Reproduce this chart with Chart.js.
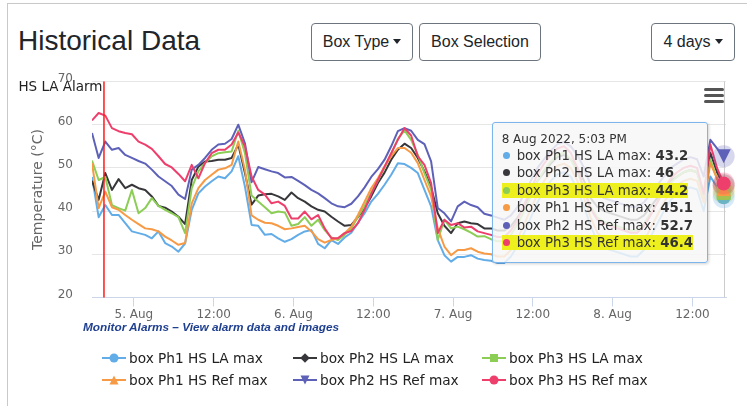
<!DOCTYPE html>
<html>
<head>
<meta charset="utf-8">
<title>Historical Data</title>
<script src="https://cdn.jsdelivr.net/npm/chart.js@4.4.1/dist/chart.umd.min.js"></script>
<style>
  html, body { margin: 0; padding: 0; background: #fff; }
  body { width: 747px; height: 406px; overflow: hidden; position: relative; font-family: "Liberation Sans", Arial, sans-serif; }
  #card { position: absolute; left: 7px; top: 3px; width: 800px; height: 500px; border: 1px solid #c9c9c9; box-sizing: border-box; }
  #title { position: absolute; left: 18px; top: 27px; margin: 0; font-size: 28px; line-height: 28px; font-weight: normal; color: #212529; }
  .btn { position: absolute; top: 23px; height: 38px; box-sizing: border-box; border: 1px solid #6c757d; border-radius: 4px;
         font-size: 16px; line-height: 36px; color: #212529; text-align: center; background: #fff; }
  .caret { display: inline-block; margin-left: 4px; vertical-align: 3px; border-top: 5px solid #212529;
           border-left: 4.5px solid transparent; border-right: 4.5px solid transparent; }
  #chart { position: absolute; left: 0; top: 0; }
  #menu { position: absolute; left: 704px; top: 88px; width: 20px; }
  #menu div { height: 2.6px; background: #555; border-radius: 1.5px; margin-bottom: 3.4px; }
  #monitor { position: absolute; left: 83px; top: 320px; font-size: 11.8px; line-height: 14px; font-weight: bold; font-style: italic; color: #1f3f8f; }
  .leg { position: absolute; height: 18px; display: flex; align-items: center; font-family: "DejaVu Sans", sans-serif; font-size: 13.7px; color: #222; white-space: nowrap; }
  .leg svg { margin-right: 3px; }
  #tip { position: absolute; width: 216px; box-sizing: border-box; padding: 8px 9px 10px 9px; background: rgba(247,247,247,0.85);
         border: 1px solid #7cb5ec; border-radius: 3px; box-shadow: 1px 1px 3px rgba(0,0,0,0.18);
         font-family: "DejaVu Sans", sans-serif; color: #333; white-space: nowrap; }
  #tip .hd { font-size: 12px; line-height: 16px; }
  #tip .row { font-size: 13.3px; line-height: 17.6px; }
  #tip .dot { display: inline-block; width: 7px; height: 7px; border-radius: 50%; margin: 0 7px 0 1px; vertical-align: 1px; }
  #tip .hl { background: #eef01e; }
</style>
</head>
<body>
<div id="card"></div>
<h3 id="title">Historical Data</h3>
<div class="btn" style="left:311px;width:102px;">Box Type<span class="caret"></span></div>
<div class="btn" style="left:419px;width:122px;">Box Selection</div>
<div class="btn" style="left:651px;width:84px;">4 days<span class="caret"></span></div>
<canvas id="chart" width="747" height="406"></canvas>
<div id="menu"><div></div><div></div><div></div></div>
<div id="monitor">Monitor Alarms – View alarm data and images</div>
<div id="legend"></div>
<div id="tip"></div>

<script>
// hours since 5 Aug 2022 00:00, one reading per hour
const firstHour = -6.3;
const axisMin = -6.3;
const axisMax = 89.05;
const alarmHour = -4.5;
const alarmLabel = 'HS LA Alarm';
const tooltipHeader = '8 Aug 2022, 5:03 PM';

const tickHours = [0, 12, 24, 36, 48, 60, 72, 84];
const tickLabels = ['5. Aug', '12:00', '6. Aug', '12:00', '7. Aug', '12:00', '8. Aug', '12:00'];

const seriesNames = ['box Ph1 HS LA max', 'box Ph2 HS LA max', 'box Ph3 HS LA max',
                     'box Ph1 HS Ref max', 'box Ph2 HS Ref max', 'box Ph3 HS Ref max'];
const seriesColors = ['#62ace8', '#38383c', '#8ccd55', '#f79a45', '#5e61b8', '#ee3f6c'];
const seriesSymbols = ['circle', 'diamond', 'square', 'triangle', 'triangle-down', 'circle'];
const highlighted = [false, false, true, false, false, true];

const ph1LA = [47.9, 38.6, 41.4, 39.1, 39.1, 37.2, 35.3, 34.9, 34.5, 33.7, 35.3, 32.6, 31.8, 30.6, 32.5, 40.3, 44.1, 45.7, 46.9, 48.0, 47.6, 49.2, 52.7, 45.7, 36.8,
  36.6, 34.5, 34.7, 33.7, 32.9, 33.5, 34.5, 35.3, 35.6, 32.4, 31.4, 33.3, 32.4, 33.9, 35.0, 37.3, 39.5, 42.2, 44.0, 46.1, 48.4, 51.1, 50.9, 50.0,
  48.8, 44.9, 41.1, 33.3, 29.8, 28.3, 29.4, 29.4, 29.8, 29.0, 28.7,
  28.5, 28, 28, 29.5, 32, 35, 38.5, 42, 45, 47, 48.5, 49, 48, 45, 41, 36.5, 33, 31.5, 31, 30.5, 30, 29.5, 29.5, 31, 34, 37, 40, 42.5, 44, 45, 45.5, 45, 40, 48, 45.5, 43.2];
const ph2LA = [47.0, 42.6, 48.8, 44.9, 47.4, 45.3, 46.1, 45.3, 44.9, 43.4, 41.2, 40.8, 39.9, 38.7, 37.0, 47.2, 50.3, 51.5, 51.6, 51.9, 51.9, 52.3, 55.4, 48.8, 41.5,
  43.6, 43.9, 44.0, 43.4, 42.6, 44.3, 43.0, 42.2, 41.1, 40.3, 39.9, 38.7, 37.6, 36.6, 36.8, 38.6, 40.7, 43.4, 46.5, 48.9, 51.9, 54.2, 55.6, 54.6,
  52.3, 49.2, 45.5, 39.5, 36.6, 34.9, 37.2, 37.6, 37.2, 37.0, 36.0,
  36, 35.5, 35.5, 36.5, 38.5, 41, 44, 47, 49, 51, 52.5, 53, 52, 50, 47, 43, 41, 40, 39.5, 39, 38.5, 38, 38, 39, 41, 43, 45, 47, 48, 49, 49.5, 49, 44, 53.5, 49, 46];
const ph3LA = [51.7, 47.2, 47.9, 41.4, 40.7, 40.1, 44.9, 39.5, 40.7, 43.0, 41.2, 40.3, 39.5, 38.6, 34.9, 45.3, 49.2, 51.1, 52.7, 53.4, 53.6, 53.8, 58.6, 53.4, 43.6,
  42.2, 40.9, 39.5, 39.9, 39.7, 36.6, 37.0, 38.6, 36.6, 38.0, 35.6, 33.9, 33.3, 34.5, 36.0, 38.7, 41.2, 44.3, 47.1, 50.1, 53.3, 56.7, 58.7, 56.5,
  53.0, 48.8, 44.9, 33.3, 38.0, 36.0, 36.4, 35.8, 35.0, 34.1, 34.2,
  33.5, 33, 33, 34.5, 37, 40, 43.5, 47, 49.5, 51.5, 53, 53.5, 52, 49, 45, 41, 38.5, 37.5, 37, 36.5, 36, 35.5, 35.5, 37, 39.5, 42, 44.5, 46.5, 48, 49, 49.5, 49, 43, 51.9, 47.5, 44.2];
const ph1Ref = [51.1, 40.7, 44.5, 40.9, 40.3, 39.1, 38.0, 37.0, 36.0, 35.8, 35.3, 34.1, 33.2, 32.2, 32.6, 41.8, 45.3, 47.2, 48.4, 49.6, 49.9, 50.7, 56.1, 49.6, 39.0,
  38.0, 37.3, 37.2, 36.6, 35.8, 36.0, 36.3, 36.6, 35.3, 33.5, 32.7, 33.3, 33.7, 34.9, 36.4, 39.1, 42.2, 45.3, 47.6, 50.3, 52.7, 54.6, 54.6, 53.5,
  51.1, 47.2, 43.4, 36.0, 31.8, 29.8, 31.0, 31.0, 31.4, 30.6, 30.2,
  30, 29.5, 29.5, 31, 33.5, 37, 40.5, 44, 47, 49, 50.5, 51, 50, 47, 43, 38.5, 35, 33.5, 33, 32.5, 32, 31.5, 31.5, 33, 36, 39, 42, 44.5, 46, 47, 47.5, 47, 42, 51.1, 47.5, 45.1];
const ph2Ref = [58.1, 52.3, 56.1, 54.2, 54.6, 53.0, 52.3, 51.6, 51.0, 49.6, 48.0, 46.9, 45.8, 43.8, 42.8, 49.6, 50.7, 52.3, 54.2, 55.4, 55.6, 56.7, 60.0, 55.7, 46.7,
  50.2, 49.7, 49.2, 48.8, 47.8, 47.9, 47.0, 46.0, 44.9, 44.1, 43.0, 41.8, 41.1, 40.9, 41.7, 43.4, 45.5, 47.9, 49.7, 51.9, 55.0, 58.5, 59.2, 58.6,
  56.5, 55.5, 51.5, 40.7, 39.5, 37.6, 41.1, 42.2, 41.4, 40.9, 39.4,
  39.0, 38.5, 38.0, 39, 41, 44, 47, 50, 52, 54, 55.5, 56, 55, 53, 50, 46, 44, 43, 42.5, 42, 41.5, 41, 41, 42, 44, 46, 48, 50, 51, 52, 52.5, 52, 48, 56.5, 54.5, 52.7];
const ph3Ref = [61.0, 62.7, 62.1, 59.2, 58.5, 58.1, 57.8, 56.1, 55.4, 54.4, 52.7, 50.9, 50.1, 48.6, 46.9, 50.7, 47.6, 51.1, 53.4, 54.2, 54.2, 55.4, 58.2, 55.0, 48.0,
  44.9, 43.8, 41.8, 42.2, 41.2, 38.3, 38.3, 39.9, 38.1, 39.1, 36.0, 33.7, 33.7, 34.9, 35.4, 37.2, 40.3, 44.0, 47.2, 50.3, 53.4, 56.5, 59.2, 57.5,
  52.7, 50.7, 46.5, 34.9, 38.0, 36.8, 37.2, 36.2, 36.4, 35.3, 34.9,
  34.5, 34, 34, 35.5, 38, 41.5, 45, 48.5, 51, 53, 54.5, 55, 53.5, 50, 45, 40.5, 38, 37, 36.5, 36, 35.5, 35, 35, 36.5, 39, 42, 45, 47.5, 49, 50, 50.5, 50, 44, 55.4, 50, 46.4];

const allSeries = [ph1LA, ph2LA, ph3LA, ph1Ref, ph2Ref, ph3Ref];
const times = ph1LA.map((_, i) => firstHour + i);
const lastIdx = times.length - 1;

function alpha(hex, a) {
    const n = parseInt(hex.slice(1), 16);
    return `rgba(${n >> 16}, ${(n >> 8) & 255}, ${n & 255}, ${a})`;
}

function drawSymbol(ctx, sym, x, y, r) {
    ctx.beginPath();
    if (sym === 'circle') {
        ctx.arc(x, y, r, 0, Math.PI * 2);
    } else if (sym === 'diamond') {
        ctx.moveTo(x, y - r); ctx.lineTo(x + r, y); ctx.lineTo(x, y + r); ctx.lineTo(x - r, y);
    } else if (sym === 'square') {
        ctx.rect(x - r, y - r, 2 * r, 2 * r);
    } else if (sym === 'triangle') {
        ctx.moveTo(x, y - r); ctx.lineTo(x + r, y + r); ctx.lineTo(x - r, y + r);
    } else {
        ctx.moveTo(x - r, y - r); ctx.lineTo(x + r, y - r); ctx.lineTo(x, y + r);
    }
    ctx.closePath();
    ctx.fill();
}

const overlay = {
    id: 'overlay',
    beforeDatasetsDraw(chart) {
        const { ctx, chartArea: a, scales: { x } } = chart;
        ctx.save();
        // crosshair on the hovered time
        const hx = Math.round(x.getPixelForValue(times[lastIdx])) + 0.5;
        ctx.strokeStyle = '#cccccc';
        ctx.lineWidth = 1;
        ctx.beginPath(); ctx.moveTo(hx, a.top); ctx.lineTo(hx, a.bottom); ctx.stroke();
        ctx.restore();
    },
    afterDatasetsDraw(chart) {
        const { ctx, chartArea: a, scales: { x } } = chart;
        ctx.save();
        // alarm plot line
        const ax = x.getPixelForValue(alarmHour);
        ctx.strokeStyle = '#ff1a1a';
        ctx.lineWidth = 1.5;
        ctx.beginPath(); ctx.moveTo(ax, a.top); ctx.lineTo(ax, a.bottom); ctx.stroke();
        // hover halos + markers on the last point of every series
        chart.data.datasets.forEach((ds, i) => {
            const pt = chart.getDatasetMeta(i).data[lastIdx];
            ctx.fillStyle = alpha(seriesColors[i], 0.25);
            ctx.beginPath(); ctx.arc(pt.x, pt.y, 11, 0, Math.PI * 2); ctx.fill();
            ctx.fillStyle = seriesColors[i];
            drawSymbol(ctx, seriesSymbols[i], pt.x, pt.y, seriesSymbols[i] === 'circle' ? 7 : 7);
        });
        ctx.restore();
    },
    afterDraw(chart) {
        const { ctx, chartArea: a, scales: { x } } = chart;
        const ax = x.getPixelForValue(alarmHour);
        ctx.save();
        ctx.font = '13.5px "DejaVu Sans"';
        ctx.fillStyle = '#222';
        ctx.textAlign = 'right';
        ctx.textBaseline = 'alphabetic';
        ctx.fillText(alarmLabel, ax - 1.5, a.top + 9);
        ctx.restore();
    }
};

const datasets = allSeries.map((vals, i) => ({
    label: seriesNames[i],
    data: vals.map((v, j) => ({ x: times[j], y: v })),
    borderColor: seriesColors[i],
    backgroundColor: seriesColors[i],
    borderWidth: 2,
    pointRadius: 0,
    tension: 0,
    fill: false,
    order: allSeries.length - i,
    borderJoinStyle: 'round'
}));

const chart = new Chart(document.getElementById('chart'), {
    type: 'line',
    data: { datasets },
    plugins: [overlay],
    options: {
        responsive: false,
        animation: false,
        devicePixelRatio: 1,
        events: [],
        layout: { padding: { left: 0, right: 21, top: 81.5, bottom: 78.5 } },
        plugins: { legend: { display: false }, tooltip: { enabled: false } },
        scales: {
            x: {
                type: 'linear',
                min: axisMin,
                max: axisMax,
                afterFit(scale) { scale.height = 30; },
                afterBuildTicks(scale) { scale.ticks = tickHours.map(v => ({ value: v })); },
                grid: { drawOnChartArea: false, drawTicks: true, tickLength: 9, tickColor: '#ccd6eb' },
                border: { color: '#ccd6eb', width: 1 },
                ticks: {
                    autoSkip: false, maxRotation: 0, padding: 1, color: '#666',
                    font: { family: 'DejaVu Sans', size: 12 },
                    callback: (v, idx) => tickLabels[idx]
                }
            },
            y: {
                min: 20,
                max: 70,
                afterFit(scale) { scale.width = 92; },
                grid: { color: '#e6e6e6', drawTicks: false },
                border: { display: false },
                ticks: { stepSize: 10, padding: 19, labelOffset: -3, color: '#666', font: { family: 'DejaVu Sans', size: 12 } },
                title: {
                    display: true, text: 'Temperature (°C)', color: '#666',
                    font: { family: 'DejaVu Sans', size: 14 }, padding: { top: 29.6, bottom: 0 }
                }
            }
        }
    }
});

// legend (3 columns x 2 rows)
const legendCols = [102, 293, 482];
const legendRows = [357.5, 380];
const legend = document.getElementById('legend');
seriesNames.forEach((name, i) => {
    const c = seriesColors[i];
    const s = seriesSymbols[i];
    let mark;
    if (s === 'circle') mark = `<circle cx="12" cy="6" r="4.5" fill="${c}"/>`;
    else if (s === 'diamond') mark = `<polygon points="12,1.2 16.8,6 12,10.8 7.2,6" fill="${c}"/>`;
    else if (s === 'square') mark = `<rect x="8" y="2" width="8" height="8" fill="${c}"/>`;
    else if (s === 'triangle') mark = `<polygon points="12,1.5 16.5,10.5 7.5,10.5" fill="${c}"/>`;
    else mark = `<polygon points="7.5,1.5 16.5,1.5 12,10.5" fill="${c}"/>`;
    const item = document.createElement('div');
    item.className = 'leg';
    item.style.left = legendCols[i % 3] + 'px';
    item.style.top = (legendRows[Math.floor(i / 3)] - 9) + 'px';
    item.innerHTML = `<svg width="24" height="12"><line x1="0" y1="6" x2="24" y2="6" stroke="${c}" stroke-width="2"/>${mark}</svg>${name}`;
    legend.appendChild(item);
});

// shared tooltip on the last reading
const tip = document.getElementById('tip');
let html = `<div class="hd">${tooltipHeader}</div>`;
seriesNames.forEach((name, i) => {
    const body = `<span class="dot" style="background:${seriesColors[i]}"></span>${name}: <b>${allSeries[i][lastIdx]}</b>`;
    html += `<div class="row">${highlighted[i] ? `<span class="hl">${body}</span>` : body}</div>`;
});
tip.innerHTML = html;
const px = chart.scales.x.getPixelForValue(times[lastIdx]);
tip.style.left = (px - 232) + 'px';
tip.style.top = (chart.chartArea.top + 40) + 'px';
</script>
</body>
</html>
